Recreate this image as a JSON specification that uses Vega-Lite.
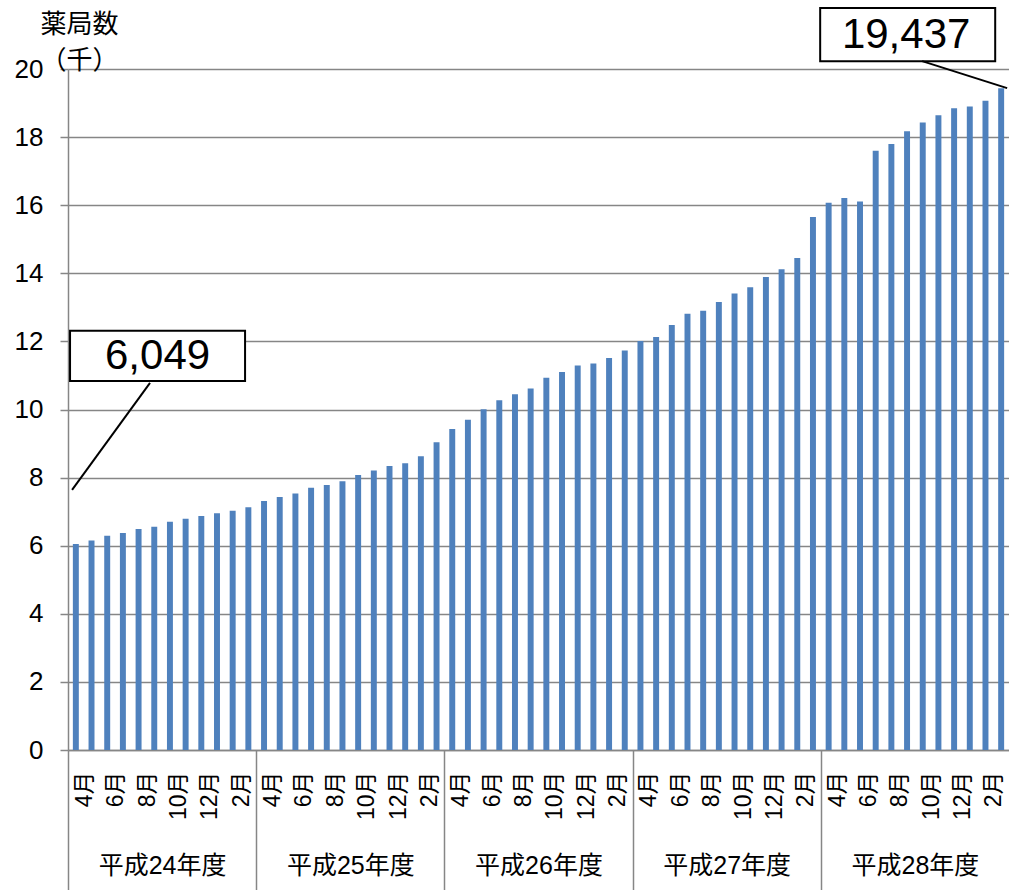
{
  "$schema": "https://vega.github.io/schema/vega-lite/v6.json",
  "width": 941,
  "height": 681,
  "autosize": {"type": "none"},
  "padding": {"left": 68, "top": 69, "right": 0, "bottom": 140},
  "background": "white",
  "config": {
    "font": "Liberation Sans, Noto Sans CJK JP",
    "view": {"stroke": null}
  },
  "data": {
    "values": [
      {"fy": "平成24年度", "key": "H24-04", "value": 6049},
      {"fy": "平成24年度", "key": "H24-05", "value": 6150},
      {"fy": "平成24年度", "key": "H24-06", "value": 6290},
      {"fy": "平成24年度", "key": "H24-07", "value": 6370},
      {"fy": "平成24年度", "key": "H24-08", "value": 6490},
      {"fy": "平成24年度", "key": "H24-09", "value": 6560},
      {"fy": "平成24年度", "key": "H24-10", "value": 6700},
      {"fy": "平成24年度", "key": "H24-11", "value": 6790},
      {"fy": "平成24年度", "key": "H24-12", "value": 6870},
      {"fy": "平成24年度", "key": "H24-01", "value": 6950},
      {"fy": "平成24年度", "key": "H24-02", "value": 7030},
      {"fy": "平成24年度", "key": "H24-03", "value": 7130},
      {"fy": "平成25年度", "key": "H25-04", "value": 7310},
      {"fy": "平成25年度", "key": "H25-05", "value": 7430},
      {"fy": "平成25年度", "key": "H25-06", "value": 7530},
      {"fy": "平成25年度", "key": "H25-07", "value": 7700},
      {"fy": "平成25年度", "key": "H25-08", "value": 7780},
      {"fy": "平成25年度", "key": "H25-09", "value": 7890},
      {"fy": "平成25年度", "key": "H25-10", "value": 8080},
      {"fy": "平成25年度", "key": "H25-11", "value": 8210},
      {"fy": "平成25年度", "key": "H25-12", "value": 8340},
      {"fy": "平成25年度", "key": "H25-01", "value": 8420},
      {"fy": "平成25年度", "key": "H25-02", "value": 8630},
      {"fy": "平成25年度", "key": "H25-03", "value": 9040},
      {"fy": "平成26年度", "key": "H26-04", "value": 9430},
      {"fy": "平成26年度", "key": "H26-05", "value": 9700},
      {"fy": "平成26年度", "key": "H26-06", "value": 10010},
      {"fy": "平成26年度", "key": "H26-07", "value": 10270},
      {"fy": "平成26年度", "key": "H26-08", "value": 10450},
      {"fy": "平成26年度", "key": "H26-09", "value": 10620},
      {"fy": "平成26年度", "key": "H26-10", "value": 10930},
      {"fy": "平成26年度", "key": "H26-11", "value": 11100},
      {"fy": "平成26年度", "key": "H26-12", "value": 11290},
      {"fy": "平成26年度", "key": "H26-01", "value": 11350},
      {"fy": "平成26年度", "key": "H26-02", "value": 11510},
      {"fy": "平成26年度", "key": "H26-03", "value": 11730},
      {"fy": "平成27年度", "key": "H27-04", "value": 12010},
      {"fy": "平成27年度", "key": "H27-05", "value": 12130},
      {"fy": "平成27年度", "key": "H27-06", "value": 12480},
      {"fy": "平成27年度", "key": "H27-07", "value": 12810},
      {"fy": "平成27年度", "key": "H27-08", "value": 12900},
      {"fy": "平成27年度", "key": "H27-09", "value": 13160},
      {"fy": "平成27年度", "key": "H27-10", "value": 13410},
      {"fy": "平成27年度", "key": "H27-11", "value": 13590},
      {"fy": "平成27年度", "key": "H27-12", "value": 13890},
      {"fy": "平成27年度", "key": "H27-01", "value": 14120},
      {"fy": "平成27年度", "key": "H27-02", "value": 14450},
      {"fy": "平成27年度", "key": "H27-03", "value": 15650},
      {"fy": "平成28年度", "key": "H28-04", "value": 16070},
      {"fy": "平成28年度", "key": "H28-05", "value": 16210},
      {"fy": "平成28年度", "key": "H28-06", "value": 16110},
      {"fy": "平成28年度", "key": "H28-07", "value": 17600},
      {"fy": "平成28年度", "key": "H28-08", "value": 17800},
      {"fy": "平成28年度", "key": "H28-09", "value": 18170},
      {"fy": "平成28年度", "key": "H28-10", "value": 18430},
      {"fy": "平成28年度", "key": "H28-11", "value": 18640},
      {"fy": "平成28年度", "key": "H28-12", "value": 18850},
      {"fy": "平成28年度", "key": "H28-01", "value": 18900},
      {"fy": "平成28年度", "key": "H28-02", "value": 19070},
      {"fy": "平成28年度", "key": "H28-03", "value": 19437}
    ]
  },
  "layer": [
    {
      "mark": {"type": "bar", "color": "#4F81BD"},
      "encoding": {
        "x": {
          "field": "key", "type": "ordinal", "sort": null,
          "scale": {"paddingInner": 0.62, "paddingOuter": 0.31},
          "axis": {
            "orient": "bottom", "title": null, "ticks": false, "grid": false,
            "domain": true, "domainColor": "#868686", "domainWidth": 1.5,
            "labelAngle": -90, "labelFontSize": 23, "labelPadding": 21, "labelOffset": 9,
            "labelColor": "#000000", "labelOverlap": false,
            "labelExpr": "(+split(datum.value,'-')[1]) % 2 === 0 ? (+split(datum.value,'-')[1]) + '月' : ''"
          }
        },
        "y": {
          "field": "value", "type": "quantitative",
          "scale": {"domain": [0, 20000], "nice": false, "zero": true},
          "axis": {
            "values": [0, 2000, 4000, 6000, 8000, 10000, 12000, 14000, 16000, 18000, 20000],
            "labelExpr": "datum.value / 1000",
            "grid": true, "gridColor": "#868686", "gridWidth": 1.5,
            "tickSize": 8, "tickColor": "#868686", "tickWidth": 1.5,
            "domainColor": "#868686", "domainWidth": 1.5,
            "labelFontSize": 26, "labelPadding": 17, "labelColor": "#000000",
            "title": ["薬局数", "（千）"], "titleAngle": 0, "titleX": 11, "titleY": -45,
            "titleAlign": "center", "titleBaseline": "middle", "titleFontSize": 26,
            "titleFontWeight": "normal", "titleLineHeight": 36, "titleColor": "#000000"
          }
        }
      }
    },
    {
      "transform": [{"filter": "datum.key == 'H24-04'"}],
      "mark": {"type": "rect", "fill": "white", "stroke": "black", "strokeWidth": 2},
      "encoding": {
        "x": {"datum": 0.13, "type": "quantitative", "scale": {"domain": [0, 60], "nice": false, "zero": false},
          "axis": {"orient": "bottom", "values": [0, 12, 24, 36, 48], "labels": false, "domain": false, "grid": false,
            "ticks": true, "tickSize": 140, "tickColor": "#868686", "tickWidth": 1.5, "title": null}},
        "x2": {"datum": 11.29},
        "y": {"datum": 10840, "type": "quantitative"},
        "y2": {"datum": 12310}
      }
    },
    {
      "transform": [{"filter": "datum.key == 'H28-03'"}],
      "mark": {"type": "rect", "fill": "white", "stroke": "black", "strokeWidth": 2},
      "encoding": {
        "x": {"datum": 47.96, "type": "quantitative", "scale": {"domain": [0, 60], "nice": false, "zero": false},
          "axis": {"orient": "bottom", "values": [6, 18, 30, 42, 54], "ticks": false, "domain": false, "grid": false,
            "labelFontSize": 25, "labelPadding": 103, "labelColor": "#000000", "title": null,
            "labelExpr": "'平成' + (24 + floor(datum.value / 12)) + '年度'"}},
        "x2": {"datum": 59.12},
        "y": {"datum": 20230, "type": "quantitative"},
        "y2": {"datum": 21790}
      }
    },
    {
      "transform": [{"filter": "datum.key == 'H24-04'"}],
      "mark": {"type": "text", "fontSize": 42, "align": "center", "baseline": "middle", "color": "black"},
      "encoding": {
        "x": {"datum": 5.71, "type": "quantitative", "scale": {"domain": [0, 60], "nice": false, "zero": false}, "axis": null},
        "y": {"datum": 11570, "type": "quantitative"},
        "text": {"field": "value", "type": "quantitative", "format": ",d"}
      }
    },
    {
      "transform": [{"filter": "datum.key == 'H28-03'"}],
      "mark": {"type": "text", "fontSize": 42, "align": "center", "baseline": "middle", "color": "black"},
      "encoding": {
        "x": {"datum": 53.44, "type": "quantitative", "scale": {"domain": [0, 60], "nice": false, "zero": false}, "axis": null},
        "y": {"datum": 20990, "type": "quantitative"},
        "text": {"field": "value", "type": "quantitative", "format": ",d"}
      }
    },
    {
      "transform": [{"filter": "datum.key == 'H24-04'"}],
      "mark": {"type": "rule", "color": "black", "strokeWidth": 2},
      "encoding": {
        "x": {"datum": 5.23, "type": "quantitative", "scale": {"domain": [0, 60], "nice": false, "zero": false}, "axis": null},
        "x2": {"datum": 0.26},
        "y": {"datum": 10780, "type": "quantitative"},
        "y2": {"datum": 7640}
      }
    },
    {
      "transform": [{"filter": "datum.key == 'H28-03'"}],
      "mark": {"type": "rule", "color": "black", "strokeWidth": 2},
      "encoding": {
        "x": {"datum": 54.46, "type": "quantitative", "scale": {"domain": [0, 60], "nice": false, "zero": false}, "axis": null},
        "x2": {"datum": 59.88},
        "y": {"datum": 20230, "type": "quantitative"},
        "y2": {"datum": 19437}
      }
    }
  ],
  "resolve": {"scale": {"x": "independent"}}
}
